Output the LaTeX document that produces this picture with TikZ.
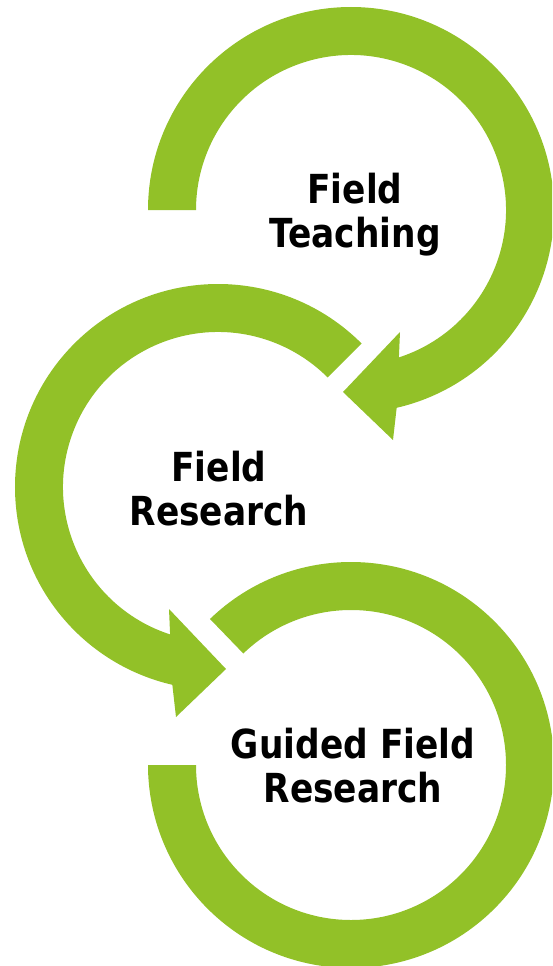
\documentclass[tikz,border=0pt]{standalone}
\usepackage{fontspec}
\setmainfont{DejaVu Sans}[FakeStretch=0.86]
\definecolor{arrowgreen}{RGB}{146,193,40}
\begin{document}
\begin{tikzpicture}[x=1pt,y=1pt]
\tikzset{
  band/.style={fill=arrowgreen,draw=none},
  stagetext/.style={font=\bfseries\fontsize{40}{44}\selectfont, align=center, inner sep=0pt, text=black}
}
\useasboundingbox (0,0) rectangle (552,-966);
\clip (0,0) rectangle (552,-966);
\coordinate (c1) at (351,-210);
\coordinate (c2) at (218,-487);
\coordinate (c3) at (351,-765);
% circle 1: Field Teaching
\fill[band] ([shift={(180:203)}]c1) arc[start angle=180,end angle=-77,radius=203pt]
  -- ([shift={(42,-230)}]c1) -- ([shift={(-8,-182)}]c1) -- ([shift={(49,-122)}]c1)
  -- ([shift={(-72:155)}]c1) arc[start angle=-72,end angle=180,radius=155pt] -- cycle;
% circle 2: Field Research
\fill[band] ([shift={(45:203)}]c2) arc[start angle=45,end angle=257,radius=203pt]
  -- ([shift={(-42,-230)}]c2) -- ([shift={(8,-182)}]c2) -- ([shift={(-49,-122)}]c2)
  -- ([shift={(252:155)}]c2) arc[start angle=252,end angle=45,radius=155pt] -- cycle;
% circle 3: Guided Field Research
\fill[band] ([shift={(134:203)}]c3) arc[start angle=134,end angle=-180,radius=203pt]
  -- ([shift={(180:155)}]c3) arc[start angle=-180,end angle=134,radius=155pt] -- cycle;
\node[stagetext, anchor=base] (t1) at (355,-247) {Field\\Teaching};
\node[stagetext, anchor=base] (t2) at (219,-525) {Field\\Research};
\node[stagetext, anchor=base] (t3) at (353,-802) {Guided Field\\Research};
\end{tikzpicture}
\end{document}
